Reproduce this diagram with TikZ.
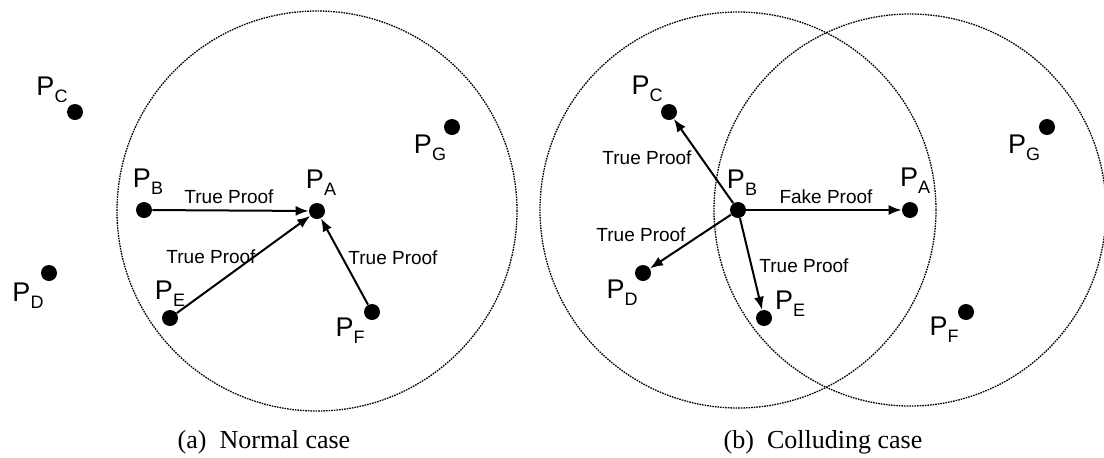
\documentclass[tikz,border=0pt]{standalone}
\usepackage{fontspec}
\setmainfont{Liberation Serif}
\setsansfont{Liberation Sans}
\usetikzlibrary{arrows.meta,positioning}

\newcommand{\plbl}[1]{P\raisebox{-0.26em}{\fontsize{9}{9}\selectfont #1}}

\tikzset{
  dot/.style={circle,fill=black,inner sep=0pt,minimum size=8pt},
  plabel/.style={font=\sffamily\fontsize{13.5}{13.5}\selectfont,inner sep=0pt},
  ptext/.style={font=\sffamily\fontsize{9.5}{9.5}\selectfont,inner sep=0pt},
  proof/.style={-{Latex[length=6.5pt,width=5pt]},line width=1pt},
  rangecircle/.style={dash pattern=on 0.8pt off 0.5pt,line width=0.65pt},
  caption/.style={font=\rmfamily\fontsize{13}{13}\selectfont,inner sep=0pt}
}

\begin{document}
\begin{tikzpicture}[x=0.5pt,y=-0.5pt,>=Latex]
\useasboundingbox (0,0) rectangle (1104,457);

% (a) normal case
\node[dot] (a-pa) at (317,211) {};
\node[dot] (a-pb) at (144,210) {};
\node[dot] (a-pc) at (75,112) {};
\node[dot] (a-pd) at (49,273) {};
\node[dot] (a-pe) at (170,318) {};
\node[dot] (a-pf) at (372,312) {};
\node[dot] (a-pg) at (452,127) {};
\draw[rangecircle] (a-pa) circle[radius=100pt];

\node[plabel] (a-la) at (321,183) {\plbl{A}};
\node[plabel] (a-lb) at (148,182) {\plbl{B}};
\node[plabel] (a-lc) at (52,90) {\plbl{C}};
\node[plabel] (a-ld) at (28,296) {\plbl{D}};
\node[plabel] (a-le) at (170,294) {\plbl{E}};
\node[plabel] (a-lf) at (350,331) {\plbl{F}};
\node[plabel] (a-lg) at (430,148) {\plbl{G}};

\draw[proof] (a-pb) -- (a-pa);
\draw[proof] (a-pe) -- (a-pa);
\draw[proof] (a-pf) -- (a-pa);
\node[ptext] (a-tb) at (229,197) {True Proof};
\node[ptext] (a-te) at (211,257) {True Proof};
\node[ptext] (a-tf) at (393,258) {True Proof};

% (b) colluding case
\node[dot] (b-pa) at (910,210) {};
\node[dot] (b-pb) at (738,210) {};
\node[dot] (b-pc) at (669,112) {};
\node[dot] (b-pd) at (643,273) {};
\node[dot] (b-pe) at (764,318) {};
\node[dot] (b-pf) at (966,312) {};
\node[dot] (b-pg) at (1047,127) {};
\draw[rangecircle] (b-pb) circle[radius=99pt];
\draw[rangecircle] (b-pa) circle[radius=98pt];

\node[plabel] (b-la) at (915,181) {\plbl{A}};
\node[plabel] (b-lb) at (742,183) {\plbl{B}};
\node[plabel] (b-lc) at (647,89) {\plbl{C}};
\node[plabel] (b-ld) at (622,293) {\plbl{D}};
\node[plabel] (b-le) at (790,304) {\plbl{E}};
\node[plabel] (b-lf) at (944,330) {\plbl{F}};
\node[plabel] (b-lg) at (1024,148) {\plbl{G}};

\draw[proof] (b-pb) -- (b-pc);
\draw[proof] (b-pb) -- (b-pd);
\draw[proof] (b-pb) -- (b-pe);
\draw[proof] (b-pb) -- (b-pa);
\node[ptext] (b-tc) at (647,158) {True Proof};
\node[ptext] (b-ta) at (826,197) {Fake Proof};
\node[ptext] (b-td) at (641,235) {True Proof};
\node[ptext] (b-te) at (804,266) {True Proof};

\node[caption] (cap-a) at (264,442) {(a)\enspace Normal case};
\node[caption] (cap-b) at (823,442) {(b)\enspace Colluding case};
\end{tikzpicture}
\end{document}
